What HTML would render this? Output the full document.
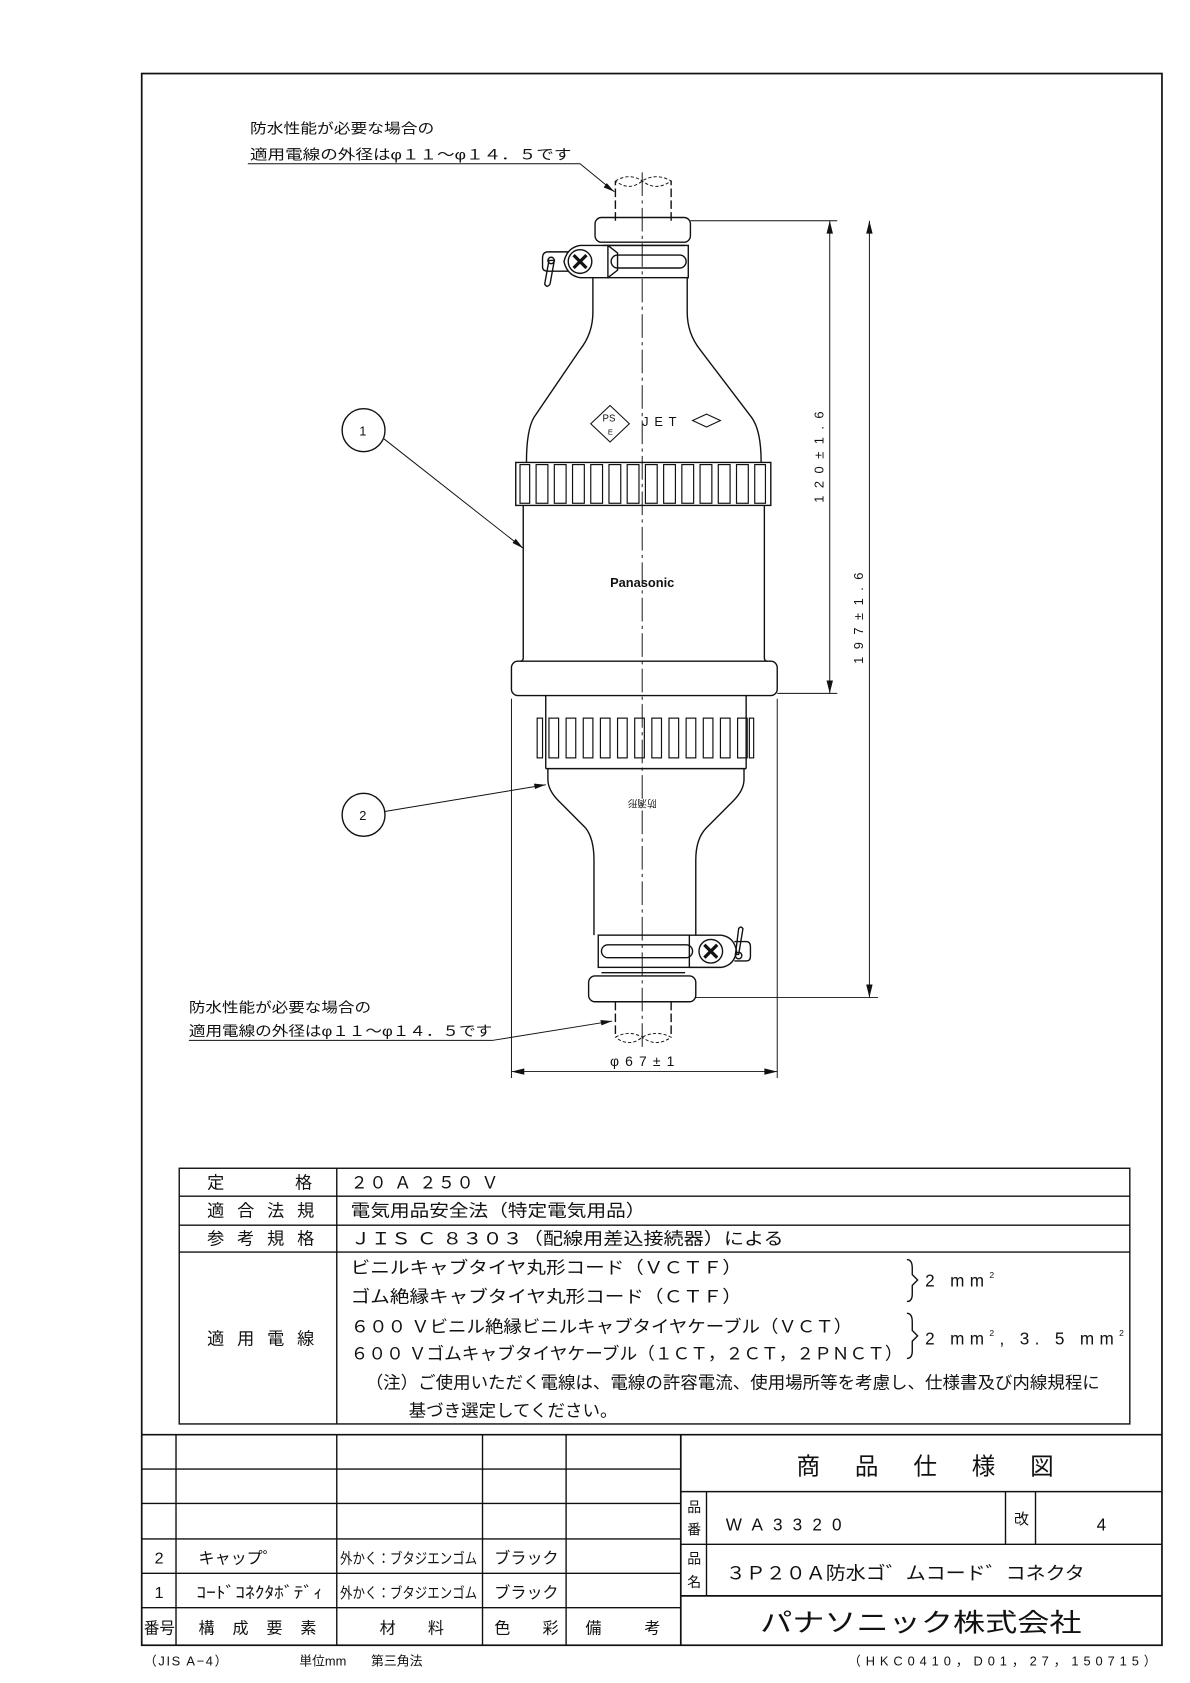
<!DOCTYPE html>
<html><head><meta charset="utf-8"><style>
html,body{margin:0;padding:0;background:#fff}
svg{display:block}
text{font-family:"Liberation Sans","Noto Sans CJK JP",sans-serif;fill:#111}
</style></head><body>
<svg width="1190" height="1683" viewBox="-1.24 -0.46 1110.4 1566.6" preserveAspectRatio="none" xmlns="http://www.w3.org/2000/svg">
<g fill="none" stroke="#111" stroke-width="1.3">
<rect x="131" y="68" width="952" height="1463" stroke-width="1.6"/>
<line x1="598" y1="160" x2="598" y2="978" stroke-width="0.9" stroke-dasharray="22,4,3,4"/>
<path d="M573 205 V168 M625 205 V168" stroke-dasharray="8,3"/>
<path d="M573 168 Q586 160 598 168 Q611 178 625 168 Q611 160 598 168 Q586 178 573 168" stroke-dasharray="3,2" stroke-width="0.9"/>
<rect x="554" y="202" width="89" height="23" rx="6"/>
<line x1="561" y1="228" x2="638" y2="228"/>
<rect x="566" y="228" width="75" height="30"/>
<rect x="569" y="237" width="70" height="12" rx="6"/>
<path d="M566 228 H540 Q528 230 525 243 Q528 256 540 258 H566 L575 251 V235 Z"/>
<circle cx="540" cy="243" r="11"/>
<path d="M534 237 L546 249 M546 237 L534 249" stroke-width="3"/>
<path d="M529 234 H510 Q505 234 505 240 V248 Q505 252 510 252 H529"/>
<path d="M511 242 L507 264 Q509 268 512 264 L516 242 Z"/>
<circle cx="513" cy="242" r="3"/>
<path d="M552 258 V290 Q552 310 540 325 L497 388 Q490 400 490 430"/>
<path d="M640 258 V290 Q640 310 652 325 L700 388 Q709 400 709 430"/>
<rect x="480" y="430" width="238" height="40"/>
<g stroke-width="1.1">
<rect x="484" y="432" width="9" height="36"/><rect x="499" y="432" width="11" height="36"/><rect x="516" y="432" width="11" height="36"/><rect x="533" y="432" width="11" height="36"/><rect x="550" y="432" width="11" height="36"/><rect x="567" y="432" width="11" height="36"/><rect x="584" y="432" width="11" height="36"/><rect x="601" y="432" width="11" height="36"/><rect x="618" y="432" width="11" height="36"/><rect x="635" y="432" width="11" height="36"/><rect x="652" y="432" width="11" height="36"/><rect x="669" y="432" width="11" height="36"/><rect x="686" y="432" width="11" height="36"/><rect x="703" y="432" width="10" height="36"/>
</g>
<path d="M487 470 V612 Q487 615 484 615 M712 470 V612 Q712 615 715 615"/>
<rect x="476" y="615" width="248" height="32" rx="6"/>
<path d="M508 647 V715 M695 647 V715"/>
<g stroke-width="1.1">
<rect x="500" y="668" width="5" height="37"/><rect x="511" y="668" width="9" height="37"/><rect x="527" y="668" width="9" height="37"/><rect x="543" y="668" width="9" height="37"/><rect x="559" y="668" width="9" height="37"/><rect x="575" y="668" width="9" height="37"/><rect x="591" y="668" width="9" height="37"/><rect x="607" y="668" width="9" height="37"/><rect x="623" y="668" width="9" height="37"/><rect x="639" y="668" width="9" height="37"/><rect x="655" y="668" width="9" height="37"/><rect x="671" y="668" width="9" height="37"/><rect x="687" y="668" width="9" height="37"/><rect x="698" y="668" width="4" height="37"/>
</g>
<line x1="508" y1="715" x2="695" y2="715"/>
<path d="M510 715 V725 Q510 735 520 745 L545 770 Q553 780 553 800 V870"/>
<path d="M693 715 V725 Q693 735 683 745 L658 770 Q648 780 648 800 V870"/>
<rect x="557" y="870" width="85" height="30"/>
<rect x="560" y="879" width="85" height="12" rx="6"/>
<path d="M642 870 H672 Q684 872 686 885 Q684 898 672 900 H642"/>
<circle cx="662" cy="885" r="11"/>
<path d="M656 879 L668 891 M668 879 L656 891" stroke-width="3"/>
<path d="M684 876 H695 Q699 876 699 881 V890 Q699 894 695 894 H684"/>
<path d="M688 888 L692 864 Q690 861 688 864 L685 888 Z"/>
<circle cx="688" cy="889" r="3"/>
<line x1="560" y1="905" x2="638" y2="905"/>
<rect x="548" y="908" width="100" height="24" rx="6"/>
<path d="M573 932 V965 M625 932 V965" stroke-dasharray="8,3"/>
<path d="M573 965 Q586 958 598 965 Q611 975 625 965 Q611 958 598 965 Q586 975 573 965" stroke-dasharray="3,2" stroke-width="0.9"/>
<path d="M568 377 L586 394 L568 411 L550 394 Z" stroke-width="1"/>
<path d="M658 385 L671 391 L658 397 L645 391 Z" stroke-width="1"/>
<g stroke-width="0.9">
<line x1="643" y1="205" x2="780" y2="205"/>
<line x1="724" y1="645" x2="780" y2="645"/>
<line x1="648" y1="928" x2="818" y2="928"/>
<line x1="773" y1="205" x2="773" y2="645"/>
<line x1="810" y1="205" x2="810" y2="928"/>
<line x1="476" y1="650" x2="476" y2="1003"/>
<line x1="724" y1="650" x2="724" y2="1003"/>
<line x1="476" y1="997" x2="724" y2="997"/>
<path d="M230 152 H540 L572 178"/>
<path d="M175 968 H458 L570 950"/>
<line x1="357" y1="408" x2="487" y2="510"/>
<line x1="357" y1="755" x2="508" y2="730"/>
</g>
<g fill="#111" stroke="none">
<path d="M773 205 l-3 12 h6z M773 645 l-3 -12 h6z M810 205 l-3 12 h6z M810 928 l-3 -12 h6z M476 997 l12 -3 v6z M724 997 l-12 -3 v6z"/>
<path d="M572 178 l-10 -4 l3 -4 z M570 950 l-11 -1 l1 5 z M487 510 l-10 -5 l3 -4 z M508 730 l-11 -1 l1 5 z"/>
</g>
<circle cx="338" cy="400" r="20"/>
<circle cx="338" cy="758" r="20"/>
<rect x="166" y="1087" width="887" height="238"/>
<line x1="313" y1="1087" x2="313" y2="1325"/>
<line x1="166" y1="1113" x2="1053" y2="1113"/>
<line x1="166" y1="1140" x2="1053" y2="1140"/>
<line x1="166" y1="1165" x2="1053" y2="1165"/>
<path d="M845 1172 Q850 1172 850 1180 V1186 L855 1191 L850 1196 V1204 Q850 1211 845 1211"/>
<path d="M845 1222 Q850 1222 850 1230 V1238 L855 1243 L850 1248 V1257 Q850 1264 845 1264"/>
<line x1="131" y1="1335" x2="1083" y2="1335" stroke-width="1.6"/>
<line x1="634" y1="1335" x2="634" y2="1531" stroke-width="1.6"/>
<line x1="163" y1="1335" x2="163" y2="1531"/>
<line x1="313" y1="1335" x2="313" y2="1531"/>
<line x1="449" y1="1335" x2="449" y2="1531"/>
<line x1="527" y1="1335" x2="527" y2="1531"/>
<line x1="131" y1="1367" x2="634" y2="1367"/>
<line x1="131" y1="1399" x2="634" y2="1399"/>
<line x1="131" y1="1432" x2="634" y2="1432"/>
<line x1="131" y1="1464" x2="634" y2="1464"/>
<line x1="131" y1="1496" x2="634" y2="1496"/>
<line x1="634" y1="1388" x2="1083" y2="1388"/>
<line x1="634" y1="1437" x2="1083" y2="1437"/>
<line x1="634" y1="1485" x2="1083" y2="1485" stroke-width="1.6"/>
<line x1="658" y1="1388" x2="658" y2="1485"/>
<line x1="937" y1="1388" x2="937" y2="1437"/>
<line x1="965" y1="1388" x2="965" y2="1437"/>
</g>
<g font-size="13">
<text x="232" y="124" textLength="172" lengthAdjust="spacingAndGlyphs">防水性能が必要な場合の</text>
<text x="232" y="148" textLength="300" lengthAdjust="spacingAndGlyphs">適用電線の外径はφ１１～φ１４．５です</text>
<text x="175" y="942" textLength="170" lengthAdjust="spacingAndGlyphs">防水性能が必要な場合の</text>
<text x="175" y="964" textLength="283" lengthAdjust="spacingAndGlyphs">適用電線の外径はφ１１～φ１４．５です</text>
<text x="334" y="405" font-size="12">1</text>
<text x="334" y="763" font-size="12">2</text>
<text x="598" y="992" text-anchor="middle" textLength="60">φ67±1</text>
<text transform="translate(767 425) rotate(-90)" text-anchor="middle" font-size="12" textLength="85">120±1.6</text>
<text transform="translate(804 575) rotate(-90)" text-anchor="middle" font-size="12" textLength="85">197±1.6</text>
<text x="598" y="546" text-anchor="middle" font-size="12" font-weight="bold">Panasonic</text>
<text x="598" y="396" font-size="12" textLength="32">JET</text>
<text x="561" y="392" font-size="9">PS</text>
<text x="566" y="404" font-size="7">E</text>
<text transform="translate(598 744) rotate(180)" text-anchor="middle" font-size="9">防滴形</text>
</g>
<g font-size="16">
<text x="192" y="1106">定</text><text x="274" y="1106">格</text>
<text x="192" y="1132" textLength="100">適 合 法 規</text>
<text x="192" y="1158" textLength="100">参 考 規 格</text>
<text x="192" y="1251" textLength="100">適 用 電 線</text>
<text x="326" y="1106" textLength="138">２０ Ａ ２５０ Ｖ</text>
<text x="326" y="1132" textLength="275" lengthAdjust="spacingAndGlyphs">電気用品安全法（特定電気用品）</text>
<text x="326" y="1158" textLength="404" lengthAdjust="spacingAndGlyphs">ＪＩＳ Ｃ ８３０３（配線用差込接続器）による</text>
<text x="326" y="1185" textLength="365" lengthAdjust="spacingAndGlyphs">ビニルキャブタイヤ丸形コード（ＶＣＴＦ）</text>
<text x="326" y="1212" textLength="365" lengthAdjust="spacingAndGlyphs">ゴム絶縁キャブタイヤ丸形コード（ＣＴＦ）</text>
<text x="326" y="1240" textLength="468" lengthAdjust="spacingAndGlyphs">６００ Ｖビニル絶縁ビニルキャブタイヤケーブル（ＶＣＴ）</text>
<text x="326" y="1265" textLength="515" lengthAdjust="spacingAndGlyphs">６００ Ｖゴムキャブタイヤケーブル（１ＣＴ，２ＣＴ，２ＰＮＣＴ）</text>
<text x="862" y="1197" letter-spacing="5">2 mm<tspan font-size="8" dy="-8">2</tspan></text>
<text x="862" y="1251" letter-spacing="5">2 mm<tspan font-size="8" dy="-8">2</tspan><tspan dy="8">, 3. 5 mm</tspan><tspan font-size="8" dy="-8">2</tspan></text>
<text x="340" y="1292" textLength="685" lengthAdjust="spacingAndGlyphs">（注）ご使用いただく電線は、電線の許容電流、使用場所等を考慮し、仕様書及び内線規程に</text>
<text x="380" y="1318" textLength="195" lengthAdjust="spacingAndGlyphs">基づき選定してください。</text>
</g>
<g font-size="15">
<text x="143" y="1455">2</text><text x="143" y="1487">1</text>
<text x="184" y="1455">キャップ゜</text>
<text x="182" y="1487" textLength="118" lengthAdjust="spacingAndGlyphs">ｺｰﾄﾞｺﾈｸﾀﾎﾞﾃﾞｨ</text>
<text x="316" y="1455" textLength="128" lengthAdjust="spacingAndGlyphs" font-size="14">外かく：ブタジエンゴム</text>
<text x="316" y="1487" textLength="128" lengthAdjust="spacingAndGlyphs" font-size="14">外かく：ブタジエンゴム</text>
<text x="460" y="1455" textLength="60">ブラック</text>
<text x="460" y="1487" textLength="60">ブラック</text>
<text x="133" y="1520" textLength="29" lengthAdjust="spacingAndGlyphs">番号</text>
<text x="184" y="1520" textLength="110">構 成 要 素</text>
<text x="353" y="1520">材</text><text x="398" y="1520">料</text>
<text x="460" y="1520">色</text><text x="505" y="1520">彩</text>
<text x="545" y="1520">備</text><text x="600" y="1520">考</text>
<text x="640" y="1407" font-size="13">品</text><text x="640" y="1428" font-size="13">番</text>
<text x="640" y="1455" font-size="13">品</text><text x="640" y="1477" font-size="13">名</text>
<text x="945" y="1418" font-size="14">改</text>
<text x="1022" y="1424" font-size="16">4</text>
<text x="676" y="1424" font-size="16" textLength="108">WA3320</text>
<text x="676" y="1470" font-size="17" textLength="335" lengthAdjust="spacingAndGlyphs">３Ｐ２０Ａ防水ゴ゛ムコード゛コネクタ</text>
<text x="742" y="1372" font-size="22" textLength="240">商 品 仕 様 図</text>
<text x="708" y="1518" font-size="24" textLength="300" lengthAdjust="spacingAndGlyphs">パナソニック株式会社</text>
</g>
<g font-size="12">
<text x="133" y="1550" textLength="78">（JIS A−4）</text>
<text x="278" y="1550">単位mm</text>
<text x="345" y="1550">第三角法</text>
<text x="1078" y="1550" text-anchor="end" textLength="288">（HKC0410，D01，27，150715）</text>
</g>
</svg>
</body></html>
